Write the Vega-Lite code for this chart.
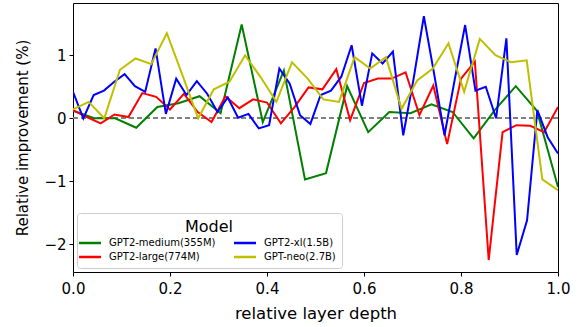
{
  "$schema": "https://vega.github.io/schema/vega-lite/v6.json",
  "width": 485,
  "height": 269,
  "autosize": {"type": "none"},
  "padding": {"left": 73, "top": 3, "right": 23, "bottom": 55},
  "config": {
    "font": "DejaVu Sans",
    "view": {"stroke": "black", "strokeWidth": 1},
    "axis": {"grid": false, "domain": false, "tickColor": "black", "tickSize": 4, "labelColor": "black", "titleColor": "black", "labelFontSize": 15, "titleFontWeight": "normal", "labelFont": "DejaVu Sans", "titleFont": "DejaVu Sans"},
    "legend": {"labelFont": "DejaVu Sans", "titleFont": "DejaVu Sans"}
  },
  "datasets": {
    "series": [
      {"m": "GPT2-medium(355M)", "x": 0, "y": 0.12},
      {"m": "GPT2-medium(355M)", "x": 0.0435, "y": 0.0},
      {"m": "GPT2-medium(355M)", "x": 0.087, "y": 0.0},
      {"m": "GPT2-medium(355M)", "x": 0.1304, "y": -0.15},
      {"m": "GPT2-medium(355M)", "x": 0.1739, "y": 0.18},
      {"m": "GPT2-medium(355M)", "x": 0.2174, "y": 0.24},
      {"m": "GPT2-medium(355M)", "x": 0.2609, "y": 0.35},
      {"m": "GPT2-medium(355M)", "x": 0.3043, "y": 0.08},
      {"m": "GPT2-medium(355M)", "x": 0.3478, "y": 1.49},
      {"m": "GPT2-medium(355M)", "x": 0.3913, "y": -0.06},
      {"m": "GPT2-medium(355M)", "x": 0.4348, "y": 0.76},
      {"m": "GPT2-medium(355M)", "x": 0.4783, "y": -0.97},
      {"m": "GPT2-medium(355M)", "x": 0.5217, "y": -0.87},
      {"m": "GPT2-medium(355M)", "x": 0.5652, "y": 0.51},
      {"m": "GPT2-medium(355M)", "x": 0.6087, "y": -0.22},
      {"m": "GPT2-medium(355M)", "x": 0.6522, "y": 0.1},
      {"m": "GPT2-medium(355M)", "x": 0.6957, "y": 0.08},
      {"m": "GPT2-medium(355M)", "x": 0.7391, "y": 0.22},
      {"m": "GPT2-medium(355M)", "x": 0.7826, "y": 0.1},
      {"m": "GPT2-medium(355M)", "x": 0.8261, "y": -0.32},
      {"m": "GPT2-medium(355M)", "x": 0.8696, "y": 0.13},
      {"m": "GPT2-medium(355M)", "x": 0.913, "y": 0.51},
      {"m": "GPT2-medium(355M)", "x": 0.9565, "y": 0.12},
      {"m": "GPT2-medium(355M)", "x": 1, "y": -1.09},

      {"m": "GPT2-large(774M)", "x": 0, "y": 0.13},
      {"m": "GPT2-large(774M)", "x": 0.0286, "y": 0.02},
      {"m": "GPT2-large(774M)", "x": 0.0571, "y": -0.08},
      {"m": "GPT2-large(774M)", "x": 0.0857, "y": 0.06},
      {"m": "GPT2-large(774M)", "x": 0.1143, "y": 0.02},
      {"m": "GPT2-large(774M)", "x": 0.1429, "y": 0.4},
      {"m": "GPT2-large(774M)", "x": 0.1714, "y": 0.34},
      {"m": "GPT2-large(774M)", "x": 0.2, "y": 0.14},
      {"m": "GPT2-large(774M)", "x": 0.2286, "y": 0.39},
      {"m": "GPT2-large(774M)", "x": 0.2571, "y": 0.1},
      {"m": "GPT2-large(774M)", "x": 0.2857, "y": -0.06},
      {"m": "GPT2-large(774M)", "x": 0.3143, "y": 0.35},
      {"m": "GPT2-large(774M)", "x": 0.3429, "y": 0.16},
      {"m": "GPT2-large(774M)", "x": 0.3714, "y": 0.3},
      {"m": "GPT2-large(774M)", "x": 0.4, "y": 0.25},
      {"m": "GPT2-large(774M)", "x": 0.4286, "y": -0.08},
      {"m": "GPT2-large(774M)", "x": 0.4571, "y": 0.18},
      {"m": "GPT2-large(774M)", "x": 0.4857, "y": 0.49},
      {"m": "GPT2-large(774M)", "x": 0.5143, "y": 0.46},
      {"m": "GPT2-large(774M)", "x": 0.5429, "y": 0.78},
      {"m": "GPT2-large(774M)", "x": 0.5714, "y": -0.03},
      {"m": "GPT2-large(774M)", "x": 0.6, "y": 0.56},
      {"m": "GPT2-large(774M)", "x": 0.6286, "y": 0.63},
      {"m": "GPT2-large(774M)", "x": 0.6571, "y": 0.63},
      {"m": "GPT2-large(774M)", "x": 0.6857, "y": 0.73},
      {"m": "GPT2-large(774M)", "x": 0.7143, "y": 0.05},
      {"m": "GPT2-large(774M)", "x": 0.7429, "y": 0.52},
      {"m": "GPT2-large(774M)", "x": 0.7714, "y": -0.41},
      {"m": "GPT2-large(774M)", "x": 0.8, "y": 0.63},
      {"m": "GPT2-large(774M)", "x": 0.8286, "y": 0.9},
      {"m": "GPT2-large(774M)", "x": 0.8571, "y": -2.25},
      {"m": "GPT2-large(774M)", "x": 0.8857, "y": -0.22},
      {"m": "GPT2-large(774M)", "x": 0.9143, "y": -0.11},
      {"m": "GPT2-large(774M)", "x": 0.9429, "y": -0.12},
      {"m": "GPT2-large(774M)", "x": 0.9714, "y": -0.22},
      {"m": "GPT2-large(774M)", "x": 1, "y": 0.18},

      {"m": "GPT2-xl(1.5B)", "x": 0, "y": 0.42},
      {"m": "GPT2-xl(1.5B)", "x": 0.0213, "y": 0.0},
      {"m": "GPT2-xl(1.5B)", "x": 0.0426, "y": 0.37},
      {"m": "GPT2-xl(1.5B)", "x": 0.0638, "y": 0.44},
      {"m": "GPT2-xl(1.5B)", "x": 0.0851, "y": 0.58},
      {"m": "GPT2-xl(1.5B)", "x": 0.1064, "y": 0.7},
      {"m": "GPT2-xl(1.5B)", "x": 0.1277, "y": 0.51},
      {"m": "GPT2-xl(1.5B)", "x": 0.1489, "y": 0.42},
      {"m": "GPT2-xl(1.5B)", "x": 0.1702, "y": 1.11},
      {"m": "GPT2-xl(1.5B)", "x": 0.1915, "y": 0.07},
      {"m": "GPT2-xl(1.5B)", "x": 0.2128, "y": 0.63},
      {"m": "GPT2-xl(1.5B)", "x": 0.234, "y": 0.37},
      {"m": "GPT2-xl(1.5B)", "x": 0.2553, "y": 0.59},
      {"m": "GPT2-xl(1.5B)", "x": 0.2766, "y": 0.39},
      {"m": "GPT2-xl(1.5B)", "x": 0.2979, "y": 0.1},
      {"m": "GPT2-xl(1.5B)", "x": 0.3191, "y": 0.33},
      {"m": "GPT2-xl(1.5B)", "x": 0.3404, "y": 0.01},
      {"m": "GPT2-xl(1.5B)", "x": 0.3617, "y": 0.07},
      {"m": "GPT2-xl(1.5B)", "x": 0.383, "y": -0.16},
      {"m": "GPT2-xl(1.5B)", "x": 0.4043, "y": -0.11},
      {"m": "GPT2-xl(1.5B)", "x": 0.4255, "y": 0.79},
      {"m": "GPT2-xl(1.5B)", "x": 0.4468, "y": 0.55},
      {"m": "GPT2-xl(1.5B)", "x": 0.4681, "y": 0.05},
      {"m": "GPT2-xl(1.5B)", "x": 0.4894, "y": -0.09},
      {"m": "GPT2-xl(1.5B)", "x": 0.5106, "y": 0.37},
      {"m": "GPT2-xl(1.5B)", "x": 0.5319, "y": 0.44},
      {"m": "GPT2-xl(1.5B)", "x": 0.5532, "y": 0.66},
      {"m": "GPT2-xl(1.5B)", "x": 0.5745, "y": 1.16},
      {"m": "GPT2-xl(1.5B)", "x": 0.5957, "y": 0.2},
      {"m": "GPT2-xl(1.5B)", "x": 0.617, "y": 1.03},
      {"m": "GPT2-xl(1.5B)", "x": 0.6383, "y": 0.87},
      {"m": "GPT2-xl(1.5B)", "x": 0.6596, "y": 1.06},
      {"m": "GPT2-xl(1.5B)", "x": 0.6809, "y": -0.27},
      {"m": "GPT2-xl(1.5B)", "x": 0.7021, "y": 0.62},
      {"m": "GPT2-xl(1.5B)", "x": 0.7234, "y": 1.62},
      {"m": "GPT2-xl(1.5B)", "x": 0.7447, "y": 0.7},
      {"m": "GPT2-xl(1.5B)", "x": 0.766, "y": -0.27},
      {"m": "GPT2-xl(1.5B)", "x": 0.7872, "y": 0.62},
      {"m": "GPT2-xl(1.5B)", "x": 0.8085, "y": 1.48},
      {"m": "GPT2-xl(1.5B)", "x": 0.8298, "y": 0.44},
      {"m": "GPT2-xl(1.5B)", "x": 0.8511, "y": 0.5},
      {"m": "GPT2-xl(1.5B)", "x": 0.8723, "y": 0.0},
      {"m": "GPT2-xl(1.5B)", "x": 0.8936, "y": 1.27},
      {"m": "GPT2-xl(1.5B)", "x": 0.9149, "y": -2.17},
      {"m": "GPT2-xl(1.5B)", "x": 0.9362, "y": -1.62},
      {"m": "GPT2-xl(1.5B)", "x": 0.9574, "y": 0.13},
      {"m": "GPT2-xl(1.5B)", "x": 0.9787, "y": -0.3},
      {"m": "GPT2-xl(1.5B)", "x": 1, "y": -0.56},

      {"m": "GPT-neo(2.7B)", "x": 0, "y": 0.14},
      {"m": "GPT-neo(2.7B)", "x": 0.0323, "y": 0.26},
      {"m": "GPT-neo(2.7B)", "x": 0.0645, "y": 0.0},
      {"m": "GPT-neo(2.7B)", "x": 0.0968, "y": 0.77},
      {"m": "GPT-neo(2.7B)", "x": 0.129, "y": 0.95},
      {"m": "GPT-neo(2.7B)", "x": 0.1613, "y": 0.86},
      {"m": "GPT-neo(2.7B)", "x": 0.1935, "y": 1.35},
      {"m": "GPT-neo(2.7B)", "x": 0.2258, "y": 0.68},
      {"m": "GPT-neo(2.7B)", "x": 0.2581, "y": 0.0},
      {"m": "GPT-neo(2.7B)", "x": 0.2903, "y": 0.46},
      {"m": "GPT-neo(2.7B)", "x": 0.3226, "y": 0.58},
      {"m": "GPT-neo(2.7B)", "x": 0.3548, "y": 1.0},
      {"m": "GPT-neo(2.7B)", "x": 0.3871, "y": 0.65},
      {"m": "GPT-neo(2.7B)", "x": 0.4194, "y": 0.26},
      {"m": "GPT-neo(2.7B)", "x": 0.4516, "y": 0.89},
      {"m": "GPT-neo(2.7B)", "x": 0.4839, "y": 0.63},
      {"m": "GPT-neo(2.7B)", "x": 0.5161, "y": 0.3},
      {"m": "GPT-neo(2.7B)", "x": 0.5484, "y": 0.26},
      {"m": "GPT-neo(2.7B)", "x": 0.5806, "y": 0.97},
      {"m": "GPT-neo(2.7B)", "x": 0.6129, "y": 0.79},
      {"m": "GPT-neo(2.7B)", "x": 0.6452, "y": 0.97},
      {"m": "GPT-neo(2.7B)", "x": 0.6774, "y": 0.15},
      {"m": "GPT-neo(2.7B)", "x": 0.7097, "y": 0.6},
      {"m": "GPT-neo(2.7B)", "x": 0.7419, "y": 0.79},
      {"m": "GPT-neo(2.7B)", "x": 0.7742, "y": 1.19},
      {"m": "GPT-neo(2.7B)", "x": 0.8065, "y": 0.42},
      {"m": "GPT-neo(2.7B)", "x": 0.8387, "y": 1.26},
      {"m": "GPT-neo(2.7B)", "x": 0.871, "y": 1.0},
      {"m": "GPT-neo(2.7B)", "x": 0.9032, "y": 0.89},
      {"m": "GPT-neo(2.7B)", "x": 0.9355, "y": 0.92},
      {"m": "GPT-neo(2.7B)", "x": 0.9677, "y": -0.97},
      {"m": "GPT-neo(2.7B)", "x": 1, "y": -1.14}
    ]
  },
  "data": {"name": "series"},
  "layer": [
    {
      "mark": {"type": "rule", "color": "#808080", "strokeWidth": 1.5, "strokeDash": [5, 3]},
      "encoding": {"y": {"datum": 0, "type": "quantitative"}}
    },
    {
      "mark": {"type": "line", "strokeWidth": 2, "clip": true},
      "encoding": {
        "x": {
          "field": "x", "type": "quantitative",
          "scale": {"domain": [0, 1], "nice": false, "zero": false},
          "axis": {"values": [0, 0.2, 0.4, 0.6, 0.8, 1.0], "format": ".1f", "title": "relative layer depth", "titleFontSize": 16.5, "titlePadding": 9, "labelPadding": 5, "labelFlush": false, "labelBound": false, "labelOverlap": false}
        },
        "y": {
          "field": "y", "type": "quantitative",
          "scale": {"domain": [-2.44, 1.83], "nice": false, "zero": false},
          "axis": {"values": [-2, -1, 0, 1], "format": "d", "title": "Relative improvement (%)", "titleFontSize": 15, "titlePadding": 13, "labelPadding": 3, "labelFlush": false}
        },
        "color": {
          "field": "m", "type": "nominal",
          "scale": {
            "domain": ["GPT2-medium(355M)", "GPT2-large(774M)", "GPT2-xl(1.5B)", "GPT-neo(2.7B)"],
            "range": ["#008000", "#ff0000", "#0000ff", "#bfbf00"]
          },
          "legend": {
            "title": "Model",
            "orient": "bottom-left",
            "offset": 4,
            "columns": 2,
            "titleFontSize": 16,
            "titleFontWeight": "normal",
            "titleAnchor": "middle",
            "titleColor": "black",
            "titlePadding": 1,
            "labelFontSize": 10,
            "labelColor": "black",
            "symbolType": "M-2,0H2",
            "symbolSize": 121,
            "symbolStrokeWidth": 2.5,
            "fillColor": "white",
            "strokeColor": "#cccccc",
            "cornerRadius": 3,
            "padding": 6,
            "columnPadding": 13,
            "rowPadding": 2,
            "labelOffset": 12
          }
        }
      }
    }
  ]
}
